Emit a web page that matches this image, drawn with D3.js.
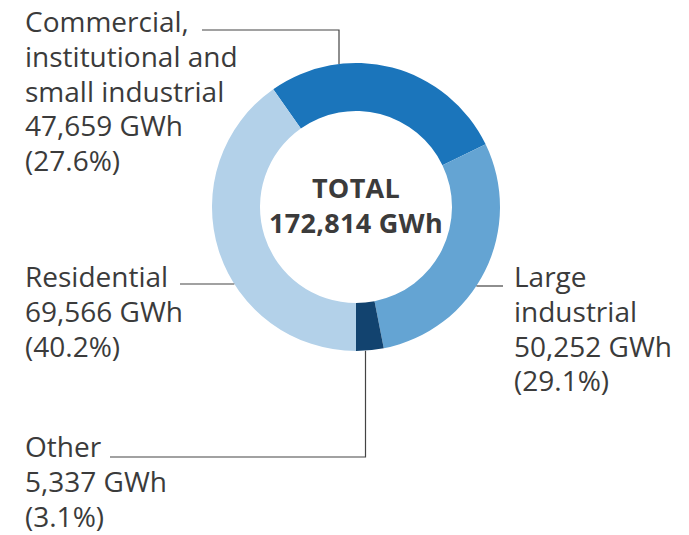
<!DOCTYPE html>
<html><head><meta charset="utf-8">
<script src="https://cdn.jsdelivr.net/npm/d3@7"></script>
<style>body{margin:0;background:#fff}svg{display:block}</style>
</head><body>
<svg id="c" width="689" height="535"></svg>
<script>
const categories = ["Commercial, institutional and small industrial", "Large industrial", "Other", "Residential"];
const values = [47659, 50252, 5337, 69566];
const percents = ["27.6%", "29.1%", "3.1%", "40.2%"];
const labelLines = [
  ["Commercial,", "institutional and", "small industrial"],
  ["Large", "industrial"],
  ["Other"],
  ["Residential"]
];
const totalValue = 172814;
const colors = ["#1b75bb", "#64a4d3", "#12436f", "#b3d1e9"];

const W = 689, H = 535, cx = 356, cy = 207, R = 144, r = 96;
const svg = d3.select("#c");
const fmt = d3.format(",");
const sum = d3.sum(values);
// Other slice ends straight down
const start = Math.PI - 2 * Math.PI * d3.sum(values.slice(0, 3)) / sum;
const pie = d3.pie().sort(null).value(d => d).startAngle(start).endAngle(start + 2 * Math.PI);
const arc = d3.arc().innerRadius(r).outerRadius(R);
const g = svg.append("g").attr("transform", `translate(${cx},${cy})`);
g.selectAll("path").data(pie(values)).join("path")
  .attr("d", arc).attr("fill", (d, i) => colors[i]);

const font = "'Open Sans', sans-serif";
const txtColor = "#3b3b3b";
const fs = 28, lh = 34.8;

// center
const ct = svg.append("text").attr("text-anchor", "middle").attr("font-family", font)
  .attr("font-weight", 700).attr("font-size", 27).attr("letter-spacing", 0.3).attr("fill", txtColor);
ct.append("tspan").attr("x", cx).attr("y", 198).text("TOTAL");
ct.append("tspan").attr("x", cx).attr("y", 233).text(fmt(totalValue) + " GWh");

// labels
const labelPos = [
  {x: 25, y: 32},
  {x: 514, y: 287},
  {x: 25, y: 457},
  {x: 25, y: 287}
];
labelLines.forEach((lines, i) => {
  const t = svg.append("text").attr("font-family", font).attr("font-size", fs).attr("fill", txtColor);
  const all = lines.concat([fmt(values[i]) + " GWh", "(" + percents[i] + ")"]);
  all.forEach((s, k) => t.append("tspan").attr("x", labelPos[i].x).attr("y", labelPos[i].y + k * lh).text(s));
});

// leader lines
const ringY = x => Math.sqrt(R * R - (x - cx) * (x - cx));
const ringX = y => Math.sqrt(R * R - (y - cy) * (y - cy));
const lc = "#444", lw = 1.2;
const leaders = [
  [[202, 30], [339, 30], [339, cy - ringY(339)]],
  [[cx + ringX(286), 286], [503, 286]],
  [[110, 457], [365.5, 457], [365.5, cy + ringY(365.5)]],
  [[180, 284], [cx - ringX(284), 284]]
];
leaders.forEach(p => svg.append("path").attr("d", d3.line()(p)).attr("fill", "none")
  .attr("stroke", lc).attr("stroke-width", lw));
</script>
</body></html>
